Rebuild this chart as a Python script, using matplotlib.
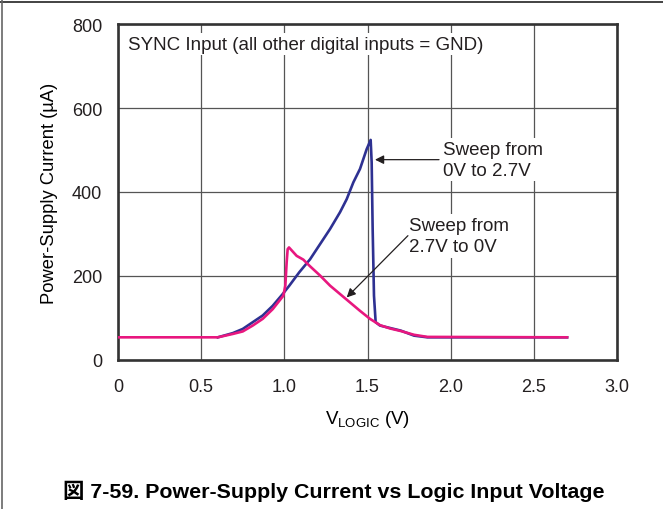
"""Power-supply current vs logic input voltage (SYNC input sweep)."""

import matplotlib.pyplot as plt
from matplotlib.lines import Line2D

# sweep 0V -> 2.7V
up_v = [0.60, 0.69, 0.75, 0.81, 0.87, 0.93, 0.99, 1.03, 1.09, 1.155, 1.215, 1.275,
        1.335, 1.375, 1.415, 1.455, 1.495, 1.519, 1.525, 1.531, 1.539, 1.549,
        1.575, 1.70, 1.78, 1.86, 2.70]
up_i = [54, 64, 74, 90, 106, 129, 157, 177, 209, 240, 276, 312,
        352, 383, 423, 455, 502, 524, 471, 312, 153, 90,
        82, 70, 58, 54, 54]

# sweep 2.7V -> 0V
down_v = [0.0, 0.60, 0.69, 0.75, 0.81, 0.87, 0.93, 0.994, 1.006, 1.014, 1.020, 1.028,
          1.074, 1.114, 1.155, 1.215, 1.275, 1.335, 1.395, 1.455, 1.515, 1.575,
          1.636, 1.70, 1.78, 1.86, 2.70]
down_i = [54, 54, 62, 68, 82, 98, 121, 153, 177, 233, 264, 268,
          248, 239, 223, 201, 177, 157, 137, 117, 98, 83,
          75, 69, 60, 55, 54]

x_ticks = [0, 0.5, 1.0, 1.5, 2.0, 2.5, 3.0]
x_tick_labels = ["0", "0.5", "1.0", "1.5", "2.0", "2.5", "3.0"]
y_ticks = [0, 200, 400, 600, 800]

BLUE = "#2e3192"
PINK = "#e8177f"
FONT = ["Liberation Sans", "DejaVu Sans"]

plt.rcParams.update({
    "font.family": FONT,
    "font.size": 13,
    "mathtext.fontset": "custom",
    "mathtext.rm": "Liberation Sans",
    "mathtext.it": "Liberation Sans",
    "text.color": "#231f20",
})

fig = plt.figure(figsize=(6.63, 5.10), dpi=100)
ax = fig.add_axes([118 / 663, 149 / 510, 499 / 663, 336 / 510])

ax.plot(up_v, up_i, color=BLUE, lw=1.9, zorder=3, solid_joinstyle="round")
ax.plot(down_v, down_i, color=PINK, lw=1.9, zorder=4, solid_joinstyle="round")

ax.set_xlim(0, 3.0)
ax.set_ylim(0, 800)
ax.set_xticks(x_ticks)
ax.set_xticklabels(x_tick_labels)
ax.set_yticks(y_ticks)
ax.tick_params(length=0, labelsize=13, colors="#231f20")
ax.tick_params(axis="x", pad=13)
ax.tick_params(axis="y", pad=11.5)
ax.grid(True, color="#555555", lw=0.9, zorder=0)
ax.set_axisbelow(True)
for spine in ax.spines.values():
    spine.set_linewidth(1.9)
    spine.set_color("#333333")

ax.set_xlabel(r"V$_{\mathrm{LOGIC}}$ (V)", fontsize=13.5, labelpad=9)
ax.set_ylabel("Power-Supply Current (µA)", fontsize=13.2, labelpad=10)

box = dict(facecolor="white", edgecolor="none", pad=2)
ax.text(0.06, 752, "SYNC Input (all other digital inputs = GND)", fontsize=13.5,
        va="center", ha="left", bbox=box, zorder=2)
ax.text(1.955, 477, "Sweep from\n0V to 2.7V", fontsize=13.5, va="center", ha="left",
        linespacing=1.3, bbox=box, zorder=2)
ax.text(1.75, 295, "Sweep from\n2.7V to 0V", fontsize=13.5, va="center", ha="left",
        linespacing=1.3, bbox=box, zorder=2)

arrow = dict(arrowstyle="-|>", color="#231f20", lw=0.9, mutation_scale=13,
             shrinkA=0, shrinkB=0)
ax.annotate("", xy=(1.545, 477), xytext=(1.93, 477), arrowprops=arrow, zorder=5)
ax.annotate("", xy=(1.375, 149), xytext=(1.743, 296), arrowprops=arrow, zorder=5)

fig.text(0.503, 1 - 491 / 510,
         "図 7-59. Power-Supply Current vs Logic Input Voltage",
         family=["Liberation Sans", "Noto Sans CJK JP"], fontsize=15.4,
         fontweight="bold", ha="center", va="center", color="#000000")

# outer frame (top and left edges)
fig.add_artist(Line2D([0, 1], [1 - 2.5 / 510, 1 - 2.5 / 510], color="#222222", lw=1.2))
fig.add_artist(Line2D([1.5 / 663, 1.5 / 663], [0, 1], color="#666666", lw=1.2))

fig.savefig("out.png", dpi=100)
